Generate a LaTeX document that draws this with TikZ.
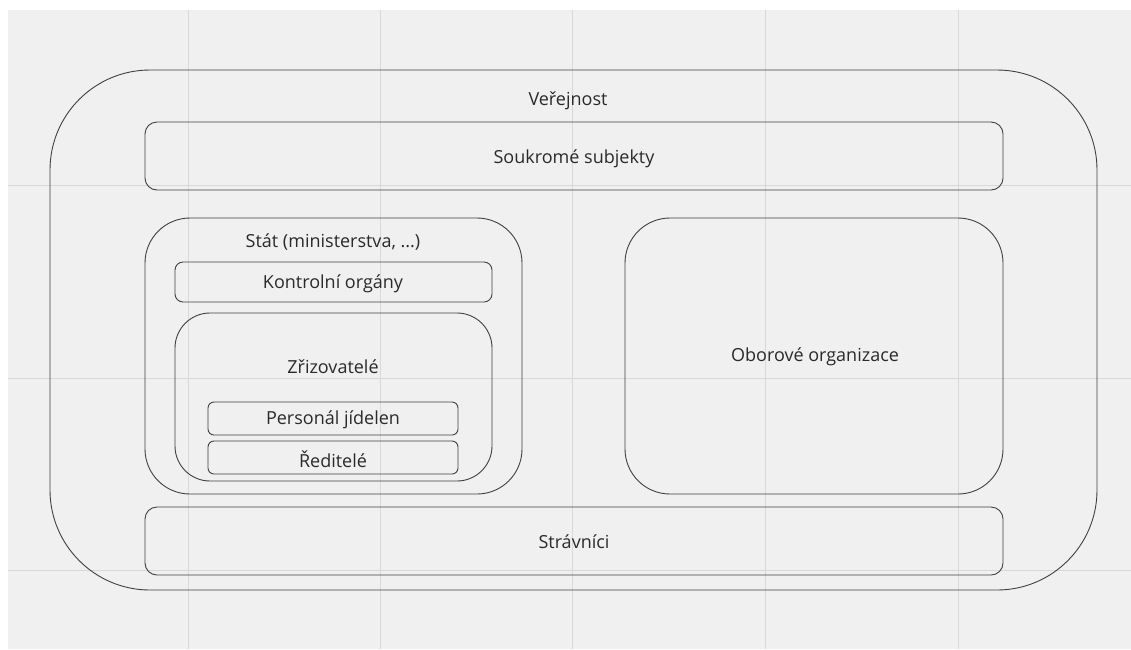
\documentclass[tikz,border=0pt]{standalone}
\usepackage{fontspec}
\setmainfont{Open Sans}
\definecolor{bgc}{HTML}{F0F0F0}
\definecolor{gridc}{HTML}{D8D8D8}
\definecolor{linec}{HTML}{404040}
\definecolor{txtc}{HTML}{2A2A2A}
\begin{document}
\begin{tikzpicture}[x=1pt,y=-1pt,
  box/.style={draw=linec,line width=0.9pt},
  lbl/.style={text=txtc,font=\fontsize{18}{20}\selectfont,inner sep=0pt,anchor=center}]
\useasboundingbox (0,0) rectangle (1131,649);
\fill[white] (0,0) rectangle (1131,649);
\fill[bgc] (8,10) rectangle (1131,649);
\foreach \gx in {188,380,572,765,958} \draw[gridc,line width=1pt] (\gx,10) -- (\gx,649);
\foreach \gy in {185,378,570} \draw[gridc,line width=1pt] (8,\gy) -- (1131,\gy);
% outer
\draw[box,rounded corners=100pt] (50,70) rectangle (1097,590);
\node[lbl] (verejnost) at (568,101) {Veřejnost};
% private
\draw[box,rounded corners=12pt] (145,122) rectangle (1003,190);
\node[lbl] (soukrome) at (574,159) {Soukromé subjekty};
% state
\draw[box,rounded corners=45pt] (145,218) rectangle (522,494);
\node[lbl] (stat) at (333,242) {Stát (ministerstva, ...)};
\draw[box,rounded corners=8pt] (175,262) rectangle (492,302);
\node[lbl] (kontrolni) at (333,284) {Kontrolní orgány};
\draw[box,rounded corners=35pt] (175,313) rectangle (492,481);
\node[lbl] (zrizovatele) at (333,367) {Zřizovatelé};
\draw[box,rounded corners=6pt] (208,402) rectangle (458,435);
\node[lbl] (personal) at (333,420) {Personál jídelen};
\draw[box,rounded corners=6pt] (208,441) rectangle (458,474);
\node[lbl] (reditele) at (333,459) {Ředitelé};
% branch orgs
\draw[box,rounded corners=45pt] (625,218) rectangle (1003,494);
\node[lbl] (oborove) at (815,357) {Oborové organizace};
% diners
\draw[box,rounded corners=12pt] (145,507) rectangle (1003,575);
\node[lbl] (stravnici) at (574,542) {Strávníci};
\end{tikzpicture}
\end{document}
